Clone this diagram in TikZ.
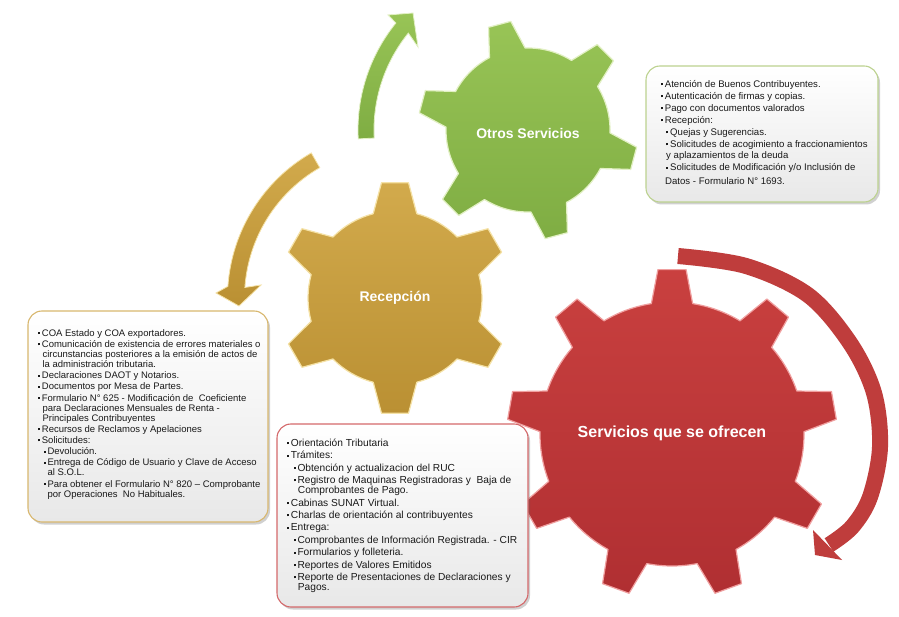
\documentclass[tikz,border=0pt]{standalone}
\usepackage{fontspec}
\setmainfont{Liberation Sans}
\usetikzlibrary{shadows}
\definecolor{gA}{HTML}{98C456}
\definecolor{gB}{HTML}{7FAD43}
\definecolor{gE}{HTML}{E2F0C4}
\definecolor{yA}{HTML}{D2AA4C}
\definecolor{yB}{HTML}{BA9033}
\definecolor{yE}{HTML}{F5E2A6}
\definecolor{rA}{HTML}{C9403F}
\definecolor{rB}{HTML}{B02F32}
\definecolor{rE}{HTML}{F0A0A0}
\definecolor{bxG}{HTML}{BCD28F}
\definecolor{bxY}{HTML}{D8B76E}
\definecolor{bxR}{HTML}{D4696B}
\newcommand{\gear}[8]{%
 \path[#8, shift={#1}] ({#3-#6}:#4)
  \foreach \k in {1,...,#2}{
    -- ({#3+(\k-1)*360/#2-#7}:#5) -- ({#3+(\k-1)*360/#2+#7}:#5) -- ({#3+(\k-1)*360/#2+#6}:#4)
    arc[start angle={#3+(\k-1)*360/#2+#6}, end angle={#3+\k*360/#2-#6}, radius=#4]
  } -- cycle;}
\newcommand{\bu}{\makebox[4pt][l]{\rule[2.1pt]{2pt}{2pt}}}
\tikzset{
  gearG/.style={top color=gA, bottom color=gB, draw=gE, line width=1.2pt, line join=round},
  gearY/.style={top color=yA, bottom color=yB, draw=yE, line width=1.2pt, line join=round},
  gearR/.style={top color=rA, bottom color=rB, draw=rE, line width=1.2pt, line join=round},
  arrG/.style={top color=gA, bottom color=gB, draw=gE, line width=0.8pt},
  arrY/.style={top color=yA, bottom color=yB, draw=yE, line width=0.8pt},
  arrR/.style={draw=rA!95!black, line width=16pt, line cap=butt},
  glabel/.style={text=white, font=\bfseries\fontsize{14}{16}\selectfont, inner sep=0pt},
  box/.style={rounded corners=14pt, top color=white, bottom color=black!9, line width=1.1pt,
    drop shadow={shadow xshift=2pt, shadow yshift=-2.5pt, opacity=0.3, fill=black!60}},
  txt/.style={inner sep=0pt, align=left, text=black!90, anchor=north west}
}
\begin{document}
\begin{tikzpicture}[x=1pt,y=-1pt]
\useasboundingbox (0,0) rectangle (899,617);
\fill[white] (0,0) rectangle (899,617);
% circular arrows
\begin{scope}[shift={(528,130)}]
\path[arrG] (177:170) arc[start angle=177, end angle=219, radius=170] -- (-140,-115) -- (-115,-117) -- (-110,-83) -- (219:154) arc[start angle=219, end angle=177, radius=154] -- cycle;
\end{scope}
\begin{scope}[shift={(395,298)}]
\path[arrY] (240:167.5) arc[start angle=240, end angle=184, radius=167.5] -- (-179,-5) -- (-156,8) -- (-134,-13) -- (184:150.5) arc[start angle=184, end angle=240, radius=150.5] -- cycle;
\end{scope}
\draw[arrR] plot[smooth, tension=0.55] coordinates {(678,256) (746,266) (808,295) (850,343) (874,393) (880,447) (870,497) (852,527) (829,545)};
\path[fill=rA!95!black] (813,530) -- (815,555) -- (842,560) -- cycle;
% gears
\gear{(395,298)}{6}{-30}{87}{116}{14.5}{6.7}{gearY}
\gear{(528,130)}{6}{-45}{82}{110}{13}{6}{gearG}
\gear{(672,434)}{9}{-90}{132}{165}{9}{4.9}{gearR}
\node[glabel] (g1) at (528,133) {Otros Servicios};
\node[glabel] (g2) at (395,298) {Recepción};
\node[glabel, font=\bfseries\fontsize{16}{18}\selectfont] (g3) at (672,433) {Servicios que se ofrecen};
% boxes
\node[box, draw=bxG, minimum width=232pt, minimum height=136pt] (b1) at (762,134) {};
\node[box, draw=bxY, minimum width=240pt, minimum height=211pt] (b2) at (148,416.5) {};
\node[box, draw=bxR, minimum width=251pt, minimum height=183pt] (b3) at (402.5,515.5) {};
\node[txt, font=\fontsize{9.6}{11}\selectfont] (t1) at (660.7,77.3) {\rule{0pt}{10pt}\bu Atención de Buenos Contribuyentes.\\[1pt]
\bu Autenticación de firmas y copias.\\[1pt]
\bu Pago con documentos valorados\\[1pt]
\bu Recepción:\\[1pt]
\hspace*{5.3pt}\bu Quejas y Sugerencias.\\[1pt]
\hspace*{5.3pt}\bu Solicitudes de acogimiento a fraccionamientos\\
\hspace*{5.3pt}y aplazamientos de la deuda\\[1.5pt]
\hspace*{5.3pt}\bu Solicitudes de Modificación y/o Inclusión de\\[3pt]
\hspace*{4.3pt}Datos - Formulario N° 1693.};
\node[txt, font=\fontsize{9.5}{10}\selectfont] (t2) at (37.7,326) {\rule{0pt}{10pt}\bu COA Estado y COA exportadores.\\[1.2pt]
\bu Comunicación de existencia de errores materiales o\\
\hspace*{4.6pt}circunstancias posteriores a la emisión de actos de\\
\hspace*{4.6pt}la administración tributaria.\\[1.2pt]
\bu Declaraciones DAOT y Notarios.\\[1.2pt]
\bu Documentos por Mesa de Partes.\\[1.2pt]
\bu Formulario N° 625 - Modificación de\ \ Coeficiente\\
\hspace*{4.6pt}para Declaraciones Mensuales de Renta -\\
\hspace*{4.6pt}Principales Contribuyentes\\[1.2pt]
\bu Recursos de Reclamos y Apelaciones\\[1.2pt]
\bu Solicitudes:\\[1.2pt]
\hspace*{5.6pt}\bu Devolución.\\[1.2pt]
\hspace*{5.6pt}\bu Entrega de Código de Usuario y Clave de Acceso\\
\hspace*{9.6pt}al S.O.L.\\[1.2pt]
\hspace*{5.6pt}\bu Para obtener el Formulario N° 820 – Comprobante\\
\hspace*{9.6pt}por Operaciones\ \ No Habituales.};
\node[txt, font=\fontsize{10.2}{10.3}\selectfont] (t3) at (286.7,436) {\rule{0pt}{10pt}\bu Orientación Tributaria\\[2.1pt]
\bu Trámites:\\[2.1pt]
\hspace*{6.6pt}\bu Obtención y actualizacion del RUC\\[2.1pt]
\hspace*{6.6pt}\bu Registro de Maquinas Registradoras y\ \ Baja de\\
\hspace*{11pt}Comprobantes de Pago.\\[2.1pt]
\bu Cabinas SUNAT Virtual.\\[2.1pt]
\bu Charlas de orientación al contribuyentes\\[2.1pt]
\bu Entrega:\\[2.1pt]
\hspace*{6.6pt}\bu Comprobantes de Información Registrada. - CIR\\[2.1pt]
\hspace*{6.6pt}\bu Formularios y folleteria.\\[2.1pt]
\hspace*{6.6pt}\bu Reportes de Valores Emitidos\\[2.1pt]
\hspace*{6.6pt}\bu Reporte de Presentaciones de Declaraciones y\\
\hspace*{11pt}Pagos.};
\end{tikzpicture}
\end{document}
